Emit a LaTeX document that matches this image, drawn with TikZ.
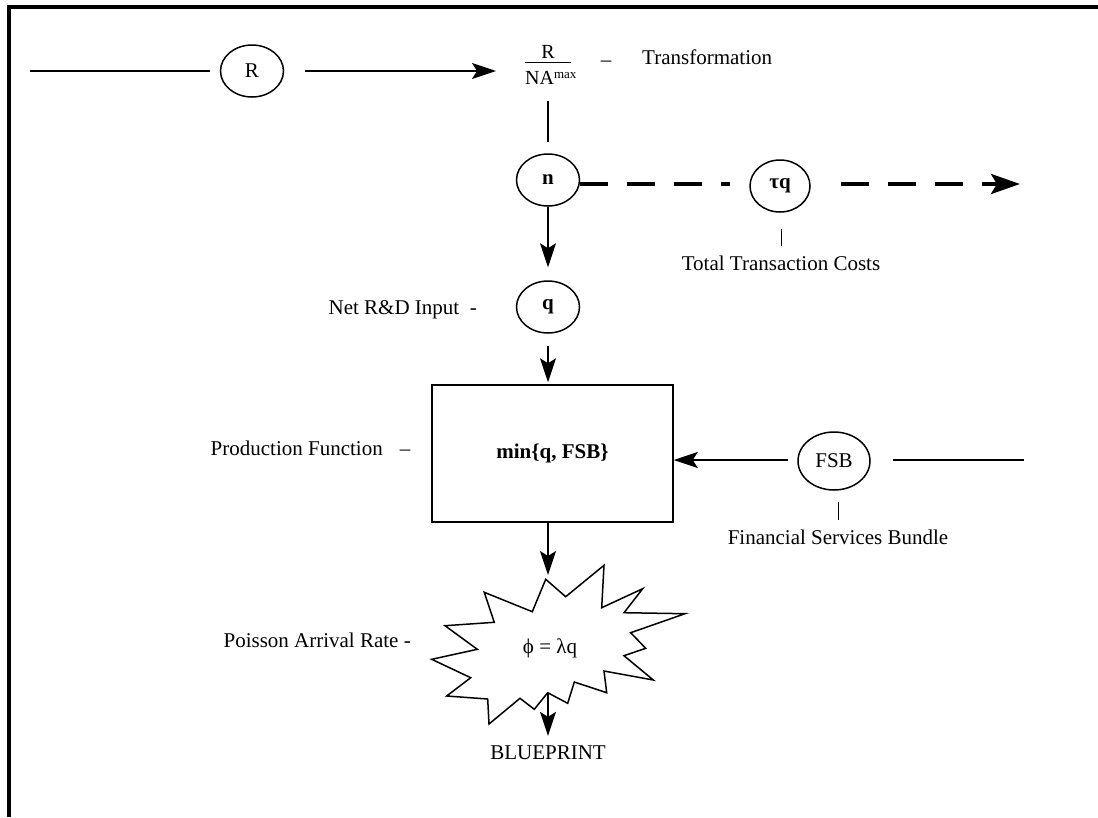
\documentclass[tikz,border=0pt]{standalone}
\usepackage{fontspec}
\setmainfont{Liberation Serif}
\usetikzlibrary{arrows.meta,shapes.geometric}
\begin{document}
\begin{tikzpicture}[x=1pt,y=-1pt,
  lbl/.style={font=\fontsize{21}{25}\selectfont, inner sep=0pt},
  oval/.style={draw, ellipse, line width=1.5pt, minimum width=63pt, minimum height=52pt, inner sep=0pt, font=\fontsize{21}{25}\selectfont},
  conn/.style={line width=1.5pt},
  arr/.style={conn, -{Stealth[length=24pt,width=16pt,inset=5pt]}},
  dashline/.style={line width=4pt, dash pattern=on 28pt off 19pt},
  dasharr/.style={dashline, -{Stealth[length=29pt,width=20pt,inset=6pt]}},
  tick/.style={line width=0.8pt},
]
\useasboundingbox (0,0) rectangle (1098,817);
% frame (top and left)
\draw[line width=3.5pt] (9,817) -- (9,7) -- (1100,7);

% top row
\node[oval] (R) at (252,71) {R};
\coordinate (Rin) at (30,71);
\coordinate (fracin) at (496,71);
\draw[conn] (Rin) -- ([xshift=-10pt]R.west);
\draw[arr] ([xshift=21pt]R.east) -- (fracin);

\node[inner sep=0pt, anchor=base, font=\fontsize{20}{22}\selectfont] (num) at (548,58) {R};
\coordinate (barL) at (525,62.5);
\coordinate (barR) at (571,62.5);
\draw[line width=1pt] (barL) -- (barR);
\node[inner sep=0pt, anchor=base west, font=\fontsize{20}{22}\selectfont] (den) at (525,84) {NA\raisebox{6pt}{\fontsize{13}{15}\selectfont max}};
\node[lbl, anchor=base] (dash1) at (606,66) {–};
\node[lbl, anchor=west] (transf) at (642,57) {Transformation};
\coordinate (fracout) at (548,101);

% n and tau q
\node[oval, font=\fontsize{21}{25}\selectfont\bfseries] (n) at (548,180) {n};
\draw[conn] (fracout) -- ([yshift=11pt]n.north);
\node[oval, minimum width=60pt, minimum height=52pt, font=\fontsize{21}{25}\selectfont\bfseries] (tq) at (780,186) {τq};
\coordinate (tqout) at (1020,184);
\draw[dashline] (n.east |- 0,184) -- ([xshift=-19pt]tq.west |- 0,184);
\draw[dasharr] ([xshift=30pt]tq.east |- 0,184) -- (tqout);
\coordinate (tqt1) at (781,229);
\coordinate (tqt2) at (781,246);
\draw[tick] (tqt1) -- (tqt2);
\node[lbl] (ttc) at (781,263) {Total Transaction Costs};

% q
\node[oval, font=\fontsize{21}{25}\selectfont\bfseries] (q) at (548,307) {q};
\draw[arr] (n.south) -- ([yshift=13pt]q.north);
\node[lbl, anchor=east] (netrd) at (477,310) {Net R\&D Input\ \ -};

% box
\node[draw, line width=1.5pt, minimum width=241pt, minimum height=137pt, inner sep=0pt,
      font=\fontsize{21}{25}\selectfont\bfseries] (box) at (552.5,453.5) {min\{q, FSB\}};
\draw[arr] ([yshift=-12pt]q.south) -- ([yshift=2pt]box.north -| q.south);
\node[lbl, anchor=east] (prodf) at (383,448) {Production Function};
\node[lbl, anchor=base] (dash2) at (405,455) {–};

% FSB
\node[oval, minimum width=72pt, minimum height=58pt] (FSB) at (834,461) {FSB};
\coordinate (fsbin) at (1024,460);
\draw[arr] ([xshift=-9pt]FSB.west |- 0,460) -- (box.east |- 0,460);
\draw[conn] ([xshift=22pt]FSB.east |- 0,460) -- (fsbin);
\coordinate (fsbt1) at (838,502);
\coordinate (fsbt2) at (838,520);
\draw[tick] (fsbt1) -- (fsbt2);
\node[lbl] (fsbl) at (838,537) {Financial Services Bundle};

% burst
\draw[line width=1.5pt, fill=white] (545.7,579.3) -- (565.7,596.7) -- (604,565.3) -- (601.7,607.7)
  -- (642.7,588.7) -- (624,612.7) -- (685,613.7) -- (630.7,632.7) -- (645.7,648.3)
  -- (624,655.7) -- (653.3,680) -- (604,671) -- (606.7,692.7) -- (574.3,682)
  -- (567.7,703.3) -- (547.7,692.7) -- (534.3,709.3) -- (520,698.3) -- (489,724)
  -- (487.7,699) -- (446.7,696) -- (470.7,677.7) -- (431.7,659.3) -- (477.3,649.3)
  -- (445,625.7) -- (494.3,622.3) -- (484.3,592.3) -- (532.3,611.7) -- cycle;
\coordinate (bursttop) at (548,575);
\coordinate (burstin) at (548,693);
\node[lbl] (phi) at (550,648) {ϕ = λq};
\draw[arr] (box.south -| q.south) -- (bursttop);
\node[lbl] (bp) at (548,753) {BLUEPRINT};
\draw[arr] (burstin) -- ([yshift=10pt]bp.north);
\node[lbl, anchor=east] (poisson) at (411,640) {Poisson Arrival Rate -};
\end{tikzpicture}
\end{document}
